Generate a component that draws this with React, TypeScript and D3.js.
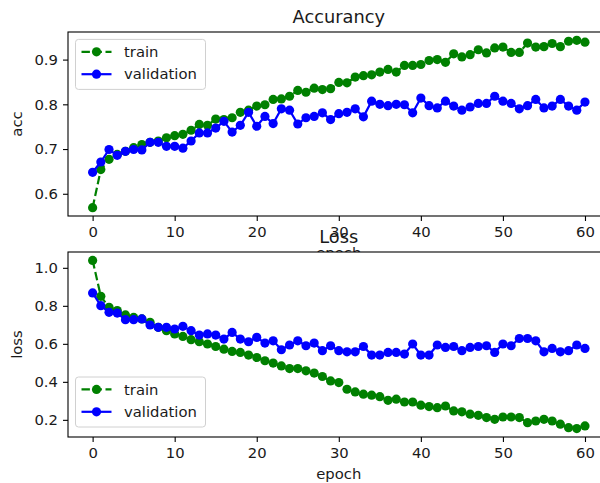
import React, { useRef, useEffect } from "react";
import * as d3 from "d3";

// values, one per epoch (0..60)
const accTrain = [
  0.569, 0.654, 0.677, 0.688, 0.695, 0.703, 0.71, 0.715, 0.718, 0.725, 0.73,
  0.733, 0.742, 0.755, 0.753, 0.767, 0.766, 0.77, 0.782, 0.787, 0.796, 0.799,
  0.811, 0.812, 0.818, 0.831, 0.827, 0.836, 0.833, 0.835, 0.849, 0.848, 0.861,
  0.864, 0.866, 0.872, 0.878, 0.872, 0.887, 0.887, 0.889, 0.898, 0.9, 0.894,
  0.913, 0.906, 0.911, 0.922, 0.915, 0.926, 0.928, 0.916, 0.916, 0.937, 0.928,
  0.929, 0.936, 0.929, 0.941, 0.943, 0.939,
];
const accVal = [
  0.648, 0.671, 0.699, 0.686, 0.695, 0.699, 0.698, 0.715, 0.715, 0.706, 0.706,
  0.702, 0.718, 0.736, 0.736, 0.747, 0.762, 0.738, 0.753, 0.782, 0.751, 0.773,
  0.757, 0.79, 0.787, 0.756, 0.77, 0.773, 0.781, 0.766, 0.779, 0.782, 0.79,
  0.772, 0.807, 0.8, 0.797, 0.8, 0.799, 0.781, 0.814, 0.797, 0.792, 0.807,
  0.796, 0.787, 0.794, 0.802, 0.802, 0.818, 0.807, 0.802, 0.79, 0.797, 0.811,
  0.792, 0.796, 0.811, 0.796, 0.787, 0.805,
];
const lossTrain = [
  1.039, 0.85, 0.792, 0.775, 0.752, 0.739, 0.731, 0.713, 0.687, 0.669, 0.652,
  0.639, 0.622, 0.611, 0.599, 0.586, 0.572, 0.56, 0.555, 0.541, 0.528, 0.511,
  0.499, 0.484, 0.47, 0.47, 0.458, 0.446, 0.428, 0.405, 0.396, 0.361, 0.347,
  0.335, 0.33, 0.322, 0.303, 0.309, 0.294, 0.294, 0.277, 0.27, 0.264, 0.273,
  0.247, 0.242, 0.23, 0.224, 0.212, 0.203, 0.215, 0.215, 0.212, 0.185, 0.194,
  0.203, 0.194, 0.177, 0.159, 0.154, 0.168,
];
const lossVal = [
  0.868, 0.801, 0.766, 0.762, 0.727, 0.727, 0.731, 0.699, 0.687, 0.687, 0.678,
  0.692, 0.669, 0.646, 0.652, 0.646, 0.625, 0.66, 0.625, 0.611, 0.634, 0.604,
  0.616, 0.569, 0.594, 0.616, 0.59, 0.604, 0.564, 0.59, 0.564, 0.558, 0.558,
  0.586, 0.541, 0.541, 0.555, 0.555, 0.546, 0.599, 0.541, 0.541, 0.594, 0.581,
  0.586, 0.564, 0.581, 0.586, 0.59, 0.555, 0.599, 0.59, 0.628, 0.628, 0.616,
  0.558, 0.576, 0.558, 0.564, 0.594, 0.576,
];

const xTicks = [0, 10, 20, 30, 40, 50, 60];
const accTicks = [0.6, 0.7, 0.8, 0.9];
const lossTicks = [0.2, 0.4, 0.6, 0.8, 1.0];
const seriesNames = ["train", "validation"];

const FONT = "DejaVu Sans, sans-serif";
const W = 600;
const H = 483;

export default function App() {
  const svgRef = useRef<SVGSVGElement>(null);

  useEffect(() => {
    const svg = d3.select(svgRef.current);
    svg.selectAll("*").remove();
    svg.append("rect").attr("width", W).attr("height", H).attr("fill", "#fff");

    const left = 68;
    const right = 609.6;
    const n = accTrain.length - 1;
    const x = d3
      .scaleLinear()
      .domain([-0.05 * n, n * 1.05])
      .range([left, right]);

    const drawPanel = (
      top: number,
      bottom: number,
      train: number[],
      val: number[],
      yTicks: number[],
      title: string,
      ylabel: string,
      legendTop: number
    ) => {
      const [lo, hi] = d3.extent([...train, ...val]) as [number, number];
      const pad = (hi - lo) * 0.05;
      const y = d3
        .scaleLinear()
        .domain([lo - pad, hi + pad])
        .range([bottom, top]);

      const g = svg.append("g");

      // axes background (hides the upper panel's xlabel, like matplotlib)
      g.append("rect")
        .attr("x", left)
        .attr("y", top)
        .attr("width", right - left)
        .attr("height", bottom - top)
        .attr("fill", "#fff");

      const line = d3
        .line<number>()
        .x((d, i) => x(i))
        .y((d) => y(d));

      const series = [
        { data: train, color: "#008000", dash: "8.4,3.6" },
        { data: val, color: "#0000ff", dash: null },
      ];

      series.forEach((s) => {
        g.append("path")
          .datum(s.data)
          .attr("d", line)
          .attr("fill", "none")
          .attr("stroke", s.color)
          .attr("stroke-width", 2.2)
          .attr("stroke-dasharray", s.dash);
        g.append("g")
          .selectAll("circle")
          .data(s.data)
          .join("circle")
          .attr("cx", (d, i) => x(i))
          .attr("cy", (d) => y(d))
          .attr("r", 4.6)
          .attr("fill", s.color);
      });

      // spines
      g.append("rect")
        .attr("x", left)
        .attr("y", top)
        .attr("width", right - left)
        .attr("height", bottom - top)
        .attr("fill", "none")
        .attr("stroke", "#000")
        .attr("stroke-width", 1.1);

      // axes
      const xAxis = d3
        .axisBottom(x)
        .tickValues(xTicks)
        .tickSize(5)
        .tickPadding(5.5)
        .tickFormat(d3.format("d"));
      const gx = g
        .append("g")
        .attr("transform", `translate(0, ${bottom})`)
        .call(xAxis);
      const yAxis = d3
        .axisLeft(y)
        .tickValues(yTicks)
        .tickSize(5)
        .tickPadding(5)
        .tickFormat(d3.format(".1f"));
      const gy = g.append("g").attr("transform", `translate(${left}, 0)`).call(yAxis);
      [gx, gy].forEach((a) => {
        a.select(".domain").remove();
        a.attr("font-family", FONT).attr("font-size", 14.8).attr("color", "#000");
        a.selectAll("line").attr("stroke-width", 1.1);
        a.selectAll("text").attr("fill", "#1a1a1a");
      });

      // title and labels
      g.append("text")
        .attr("x", (left + right) / 2)
        .attr("y", top - 9)
        .attr("text-anchor", "middle")
        .attr("font-family", FONT)
        .attr("font-size", 17.8)
        .attr("fill", "#1a1a1a")
        .text(title);
      g.append("text")
        .attr("x", (left + right) / 2)
        .attr("y", bottom + 42)
        .attr("text-anchor", "middle")
        .attr("font-family", FONT)
        .attr("font-size", 14.8)
        .attr("fill", "#1a1a1a")
        .text("epoch");
      g.append("text")
        .attr("transform", `translate(22, ${(top + bottom) / 2}) rotate(-90)`)
        .attr("text-anchor", "middle")
        .attr("font-family", FONT)
        .attr("font-size", 14.8)
        .attr("fill", "#1a1a1a")
        .text(ylabel);

      // legend
      const lx = left + 7.5;
      const lg = g.append("g").attr("transform", `translate(${lx}, ${legendTop})`);
      lg.append("rect")
        .attr("width", 130)
        .attr("height", 50)
        .attr("rx", 3)
        .attr("fill", "#fff")
        .attr("fill-opacity", 0.8)
        .attr("stroke", "#d0d0d0")
        .attr("stroke-width", 1);
      series.forEach((s, i) => {
        const ry = 12.4 + i * 22.4;
        lg.append("line")
          .attr("x1", 6)
          .attr("x2", 36)
          .attr("y1", ry)
          .attr("y2", ry)
          .attr("stroke", s.color)
          .attr("stroke-width", 2.2)
          .attr("stroke-dasharray", s.dash);
        lg.append("circle").attr("cx", 21).attr("cy", ry).attr("r", 4.6).attr("fill", s.color);
        lg.append("text")
          .attr("x", 48.5)
          .attr("y", ry + 5.2)
          .attr("font-family", FONT)
          .attr("font-size", 14.8)
          .attr("fill", "#1a1a1a")
          .text(seriesNames[i]);
      });
    };

    drawPanel(32, 216, accTrain, accVal, accTicks, "Accurancy", "acc", 39.4);
    drawPanel(252, 437, lossTrain, lossVal, lossTicks, "Loss", "loss", 377);
  }, []);

  return (
    <svg
      ref={svgRef}
      width={W}
      height={H}
      style={{ position: "absolute", left: 0, top: 0 }}
    ></svg>
  );
}
